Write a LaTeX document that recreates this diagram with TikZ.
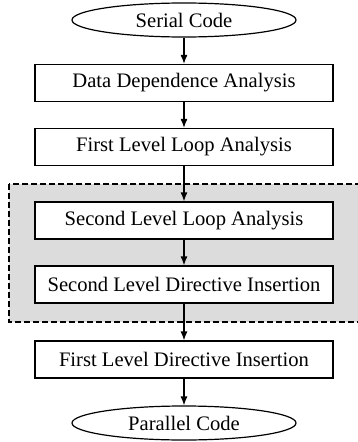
\documentclass[tikz,border=0pt]{standalone}
\usepackage{fontspec}
\setmainfont{Liberation Serif}
\usepackage{tikz}
\usetikzlibrary{arrows.meta,shapes}
\newcommand{\boxw}{298pt}
\newcommand{\boxh}{37pt}
\definecolor{regiongray}{RGB}{220,220,220}
\tikzset{
    stepbox/.style = {draw, rectangle, fill=white, line width=1.2pt,
        minimum width=\boxw, minimum height=\boxh, inner sep=0pt,
        font=\fontsize{20.6}{24}\selectfont},
    codeoval/.style = {draw, ellipse, fill=white, line width=1.2pt,
        minimum width=224pt, minimum height=34pt, inner sep=0pt,
        font=\fontsize{20.6}{24}\selectfont},
    flow/.style = {-{Latex[length=9pt,width=7pt]}, line width=1.2pt}
}

\begin{document}
\begin{tikzpicture}[x=1pt,y=-1pt]
        \useasboundingbox (0,0) rectangle (358,442);
        %\draw[help lines] (0,0) grid[step=20] (358,442);
        % second level region
        \draw[fill=regiongray, line width=1.2pt, dash pattern=on 6pt off 3pt]
            (9,184) rectangle (362,322);

        \begin{scope}
            \node[codeoval] (serial) at (184,20) {Serial Code};
            \node[stepbox] (dda) at (184,83) {Data Dependence Analysis};
            \node[stepbox] (flla) at (184,147) {First Level Loop Analysis};
            \node[stepbox] (slla) at (184,220.5) {Second Level Loop Analysis};
            \node[stepbox] (sldi) at (184,284.5) {Second Level Directive Insertion};
            \node[stepbox] (fldi) at (184,359.5) {First Level Directive Insertion};
            \node[codeoval] (parallel) at (184,423) {Parallel Code};

            \draw[flow] (serial) -- (dda);
            \draw[flow] (dda) -- (flla);
            \draw[flow] (flla) -- (slla);
            \draw[flow] (slla) -- (sldi);
            \draw[flow] (sldi) -- (fldi);
            \draw[flow] (fldi) -- (parallel);
        \end{scope}
\end{tikzpicture}
\end{document}
